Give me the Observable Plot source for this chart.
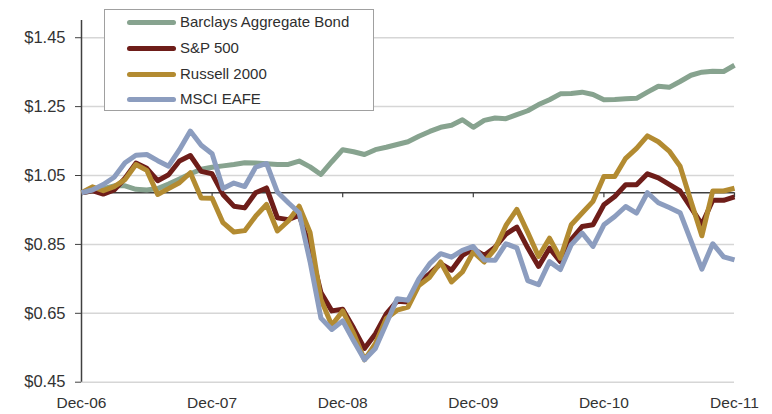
<!DOCTYPE html>
<html>
<head>
<meta charset="utf-8">
<script src="https://cdn.jsdelivr.net/npm/d3@7"></script>
<script src="https://cdn.jsdelivr.net/npm/@observablehq/plot@0.6"></script>
<style>
  html, body { margin: 0; padding: 0; background: #fff; }
  #wrap { position: relative; width: 772px; height: 414px; font-family: "Liberation Sans", Arial, sans-serif; }
  #legend { position: absolute; left: 104px; top: 9px; width: 270px; height: 102px; box-sizing: border-box;
            border: 1px solid #a0a0a0; background: #fff; }
  .row { position: absolute; left: 0; height: 20px; display: flex; align-items: center; }
  .sw { position: absolute; left: 22px; width: 49px; height: 5px; border-radius: 3px; }
  .lbl { position: absolute; left: 75px; font-size: 15px; color: #2f2f2f; white-space: nowrap; line-height: 20px; top: 0; }
</style>
</head>
<body>
<div id="wrap"><div id="chart"></div><div id="legend"></div></div>
<script>
// Series names and colours
const seriesNames = ["Barclays Aggregate Bond", "S&P 500", "Russell 2000", "MSCI EAFE"];
const seriesColors = ["#87a38f", "#6e1d19", "#b38b31", "#8c9dbf"];

// Monthly growth of $1, Dec-06 .. Dec-11 (61 months)
const barclays = [1.000,1.005,1.012,1.020,1.020,1.010,1.008,1.012,1.025,1.040,1.055,1.068,1.074,
  1.078,1.082,1.087,1.086,1.084,1.082,1.082,1.092,1.075,1.053,1.090,1.125,
  1.119,1.111,1.125,1.132,1.140,1.148,1.164,1.178,1.190,1.196,1.212,1.190,
  1.210,1.217,1.215,1.227,1.238,1.256,1.270,1.287,1.288,1.292,1.285,1.270,
  1.271,1.273,1.274,1.292,1.309,1.306,1.323,1.341,1.350,1.353,1.352,1.370];
const sp500 = [1.000,1.006,0.996,1.008,1.042,1.086,1.071,1.035,1.052,1.092,1.108,1.062,1.055,
  0.995,0.961,0.956,1.000,1.014,0.927,0.922,0.935,0.840,0.710,0.657,0.662,
  0.607,0.548,0.590,0.648,0.685,0.683,0.741,0.765,0.794,0.775,0.818,0.837,
  0.818,0.842,0.880,0.900,0.840,0.786,0.839,0.800,0.864,0.902,0.907,0.965,
  0.989,1.023,1.023,1.055,1.043,1.024,1.005,0.957,0.908,0.978,0.978,0.988];
const russell = [1.000,1.017,1.006,1.018,1.038,1.082,1.065,0.995,1.012,1.029,1.058,0.985,0.984,
  0.913,0.886,0.890,0.932,0.966,0.889,0.918,0.961,0.885,0.690,0.615,0.657,
  0.592,0.515,0.562,0.635,0.659,0.668,0.731,0.755,0.799,0.741,0.770,0.828,
  0.799,0.837,0.905,0.952,0.885,0.815,0.868,0.810,0.907,0.941,0.975,1.047,
  1.047,1.100,1.129,1.165,1.148,1.121,1.077,0.975,0.875,1.005,1.005,1.013];
const msci = [1.000,1.008,1.024,1.045,1.087,1.109,1.111,1.093,1.077,1.125,1.179,1.138,1.113,
  1.012,1.028,1.018,1.074,1.085,1.002,0.971,0.942,0.800,0.636,0.603,0.628,
  0.570,0.515,0.548,0.620,0.692,0.688,0.750,0.794,0.823,0.813,0.833,0.844,
  0.805,0.804,0.852,0.840,0.745,0.733,0.800,0.777,0.849,0.883,0.844,0.907,
  0.931,0.960,0.941,1.000,0.971,0.957,0.942,0.860,0.778,0.852,0.814,0.805];

// Axis ticks
const xTickPos = [0, 12, 24, 36, 48, 60];
const xTickLabels = ["Dec-06", "Dec-07", "Dec-08", "Dec-09", "Dec-10", "Dec-11"];
const yTicks = [0.45, 0.65, 0.85, 1.05, 1.25, 1.45];

const allSeries = [barclays, sp500, russell, msci];
const data = [];
allSeries.forEach((arr, s) => arr.forEach((v, i) => data.push({series: seriesNames[s], i, v})));

const font = '"Liberation Sans", Arial, sans-serif';
const chart = Plot.plot({
  width: 772, height: 414,
  marginLeft: 81, marginRight: 38, marginTop: 20, marginBottom: 32.3,
  style: {fontFamily: font, background: "#fff", color: "#333"},
  x: {domain: [0, 60]},
  y: {domain: [0.45, 1.5]},
  color: {domain: seriesNames, range: seriesColors},
  marks: [
    Plot.ruleY(yTicks, {stroke: "#d6d6d6", strokeWidth: 1.5}),
    Plot.ruleY([1], {stroke: "#404040", strokeWidth: 1.5}),
    Plot.ruleX(xTickPos.slice(1), {x: d => d, y1: 1, y2: 1, insetBottom: -5, stroke: "#404040", strokeWidth: 1.2}),
    Plot.axisY({ticks: yTicks, tickFormat: d => "$" + d.toFixed(2), tickSize: 6, tickPadding: 10,
      fontSize: 16.5, stroke: "#404040", fill: "#333", label: null}),
    Plot.axisX({ticks: xTickPos, tickFormat: d => xTickLabels[xTickPos.indexOf(d)], tickSize: 0,
      tickPadding: 15, fontSize: 15.5, fill: "#333", label: null}),
    Plot.ruleX([0], {stroke: "#404040", strokeWidth: 1.5}),
    Plot.line(data, {x: "i", y: "v", z: "series", stroke: "series", strokeWidth: 5,
      strokeLinejoin: "round", strokeLinecap: "butt"})
  ]
});
document.getElementById("chart").appendChild(chart);

// Legend overlay
const legend = document.getElementById("legend");
const rowTops = [12, 38, 64, 89];
seriesNames.forEach((name, k) => {
  const row = document.createElement("div");
  row.className = "row";
  row.style.top = (rowTops[k] - 10) + "px";
  row.style.width = "100%";
  const sw = document.createElement("div");
  sw.className = "sw";
  sw.style.background = seriesColors[k];
  sw.style.top = "7.5px";
  const lbl = document.createElement("div");
  lbl.className = "lbl";
  lbl.textContent = name;
  row.appendChild(sw);
  row.appendChild(lbl);
  legend.appendChild(row);
});
</script>
</body>
</html>
